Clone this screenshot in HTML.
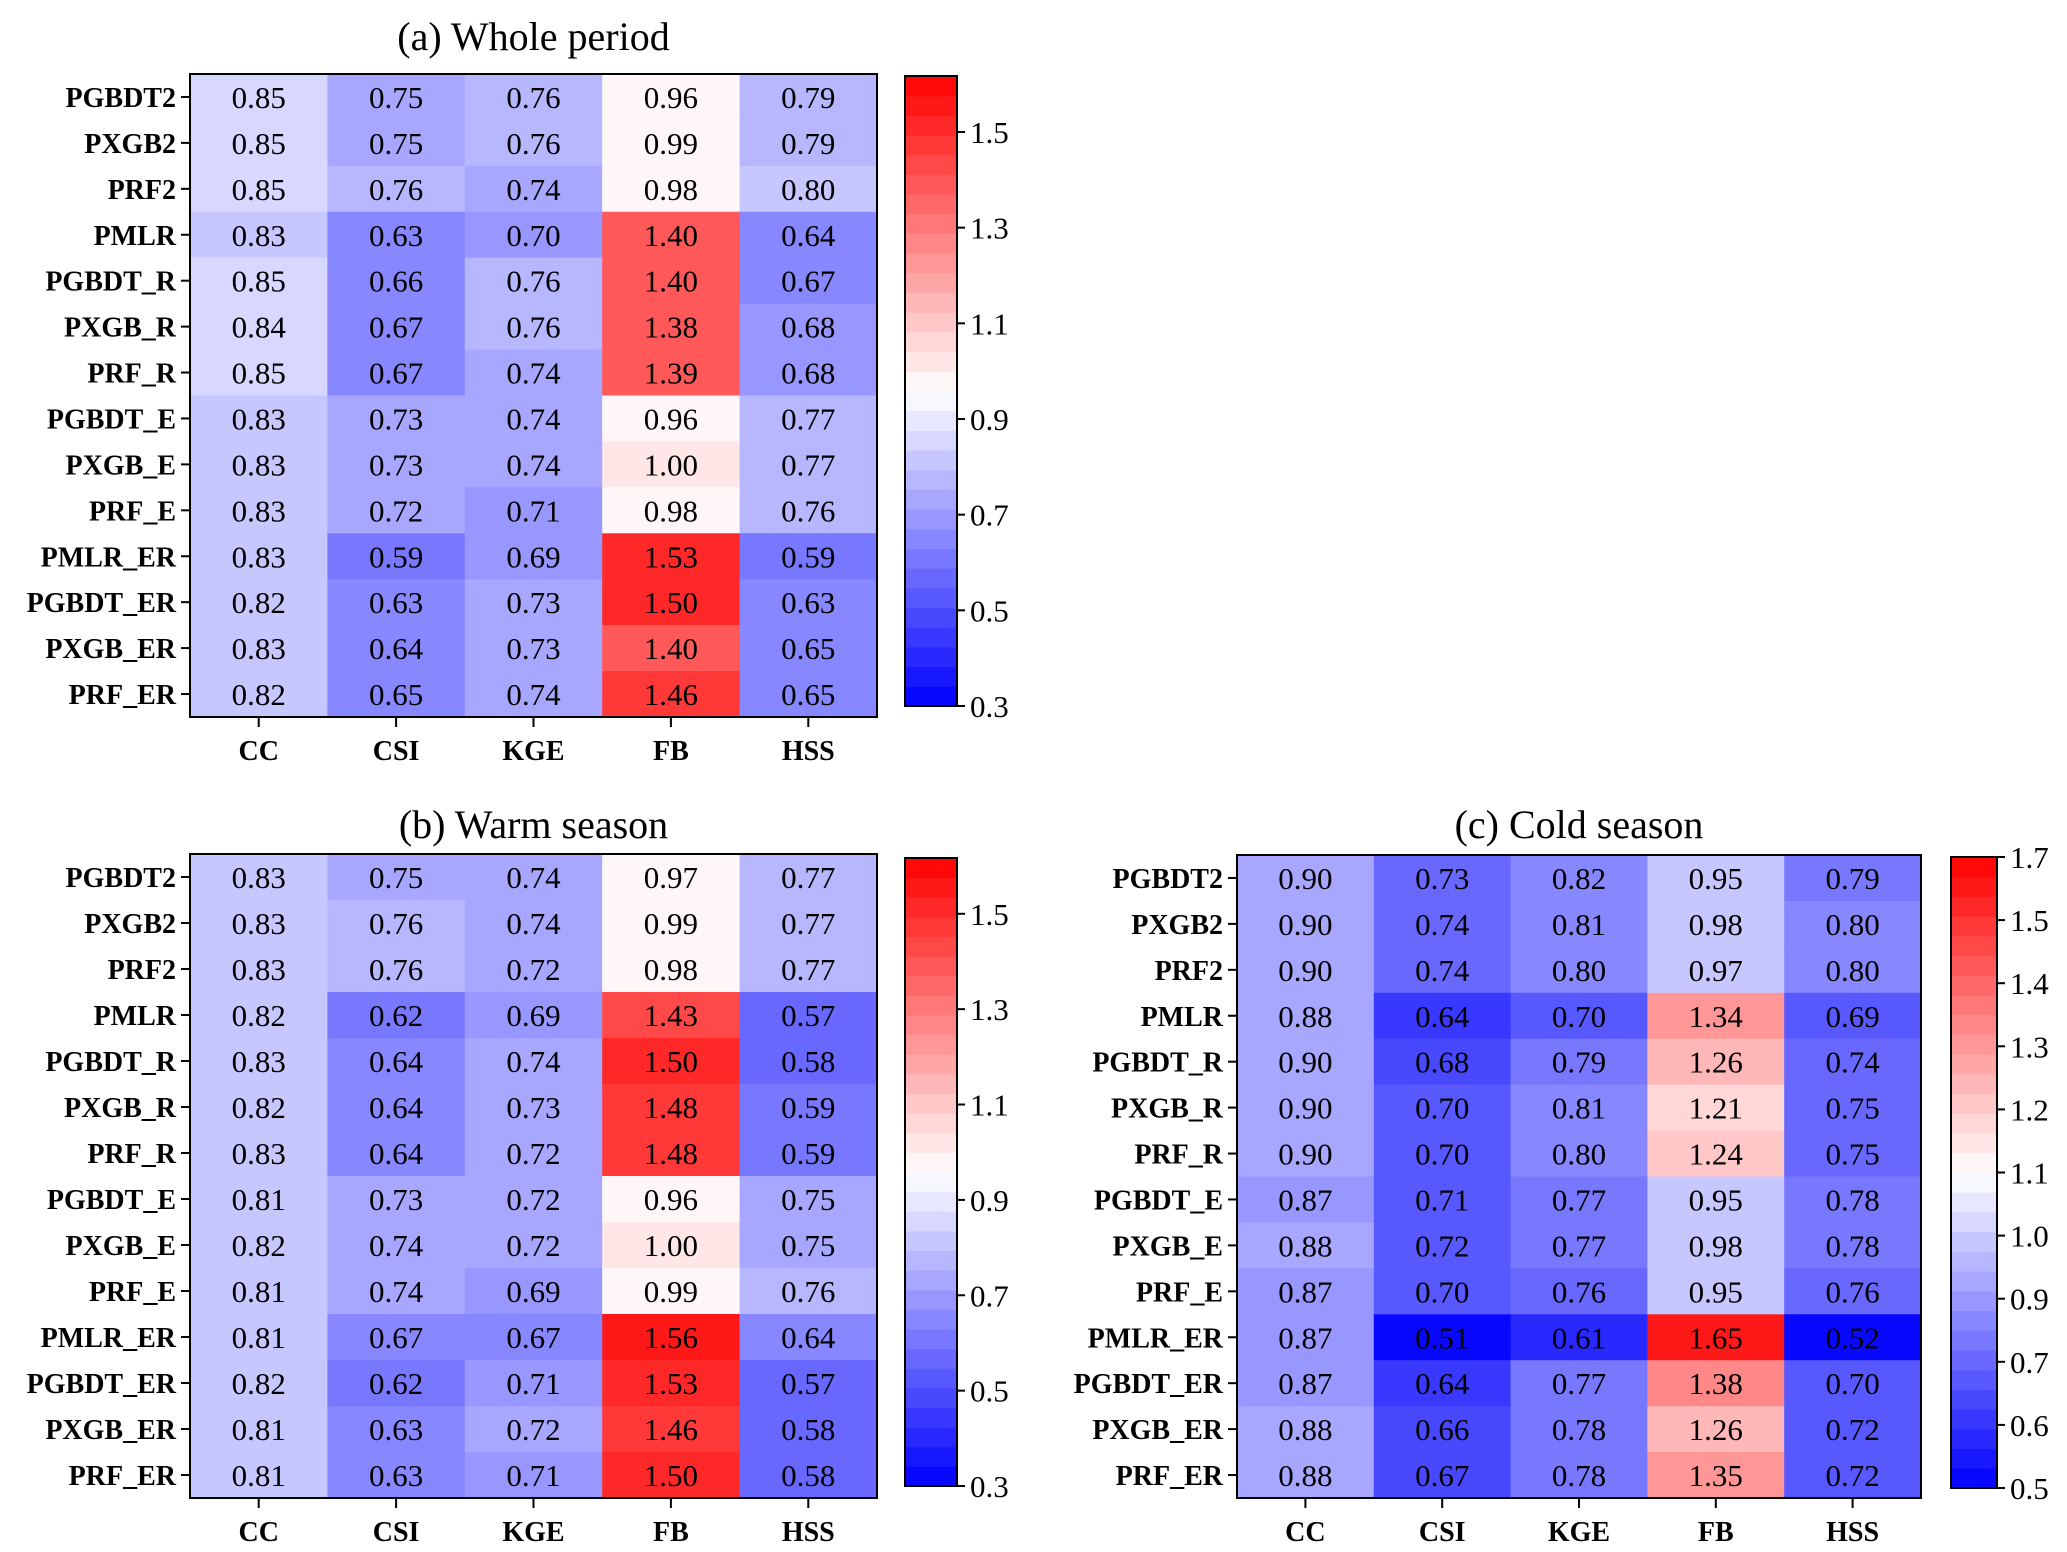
<!DOCTYPE html>
<html><head><meta charset="utf-8">
<style>
html,body{margin:0;padding:0;background:#fff;}
svg, svg text{font-family:"Liberation Serif","Times New Roman",serif;}
svg{display:block;}
</style></head>
<body>
<svg id="fig" width="2067" height="1552" viewBox="0 0 2067 1552" xmlns="http://www.w3.org/2000/svg" font-family="Liberation Serif, serif"></svg>
<script>
const rows = ["PGBDT2","PXGB2","PRF2","PMLR","PGBDT_R","PXGB_R","PRF_R","PGBDT_E","PXGB_E","PRF_E","PMLR_ER","PGBDT_ER","PXGB_ER","PRF_ER"];
const cols = ["CC","CSI","KGE","FB","HSS"];
const wholeValues = [
 [0.85,0.75,0.76,0.96,0.79],[0.85,0.75,0.76,0.99,0.79],[0.85,0.76,0.74,0.98,0.80],
 [0.83,0.63,0.70,1.40,0.64],[0.85,0.66,0.76,1.40,0.67],[0.84,0.67,0.76,1.38,0.68],
 [0.85,0.67,0.74,1.39,0.68],[0.83,0.73,0.74,0.96,0.77],[0.83,0.73,0.74,1.00,0.77],
 [0.83,0.72,0.71,0.98,0.76],[0.83,0.59,0.69,1.53,0.59],[0.82,0.63,0.73,1.50,0.63],
 [0.83,0.64,0.73,1.40,0.65],[0.82,0.65,0.74,1.46,0.65]];
const warmValues = [
 [0.83,0.75,0.74,0.97,0.77],[0.83,0.76,0.74,0.99,0.77],[0.83,0.76,0.72,0.98,0.77],
 [0.82,0.62,0.69,1.43,0.57],[0.83,0.64,0.74,1.50,0.58],[0.82,0.64,0.73,1.48,0.59],
 [0.83,0.64,0.72,1.48,0.59],[0.81,0.73,0.72,0.96,0.75],[0.82,0.74,0.72,1.00,0.75],
 [0.81,0.74,0.69,0.99,0.76],[0.81,0.67,0.67,1.56,0.64],[0.82,0.62,0.71,1.53,0.57],
 [0.81,0.63,0.72,1.46,0.58],[0.81,0.63,0.71,1.50,0.58]];
const coldValues = [
 [0.90,0.73,0.82,0.95,0.79],[0.90,0.74,0.81,0.98,0.80],[0.90,0.74,0.80,0.97,0.80],
 [0.88,0.64,0.70,1.34,0.69],[0.90,0.68,0.79,1.26,0.74],[0.90,0.70,0.81,1.21,0.75],
 [0.90,0.70,0.80,1.24,0.75],[0.87,0.71,0.77,0.95,0.78],[0.88,0.72,0.77,0.98,0.78],
 [0.87,0.70,0.76,0.95,0.76],[0.87,0.51,0.61,1.65,0.52],[0.87,0.64,0.77,1.38,0.70],
 [0.88,0.66,0.78,1.26,0.72],[0.88,0.67,0.78,1.35,0.72]];
const abTicks = ["1.5","1.3","1.1","0.9","0.7","0.5","0.3"];
const abTickVals = [1.5,1.3,1.1,0.9,0.7,0.5,0.3];
const cTicks = ["1.7","1.5","1.4","1.3","1.2","1.1","1.0","0.9","0.7","0.6","0.5"];

const NS="http://www.w3.org/2000/svg";
const svg=document.getElementById('fig');
const FF='Liberation Serif, Times New Roman, serif';
function mk(tag,attrs,parent){const e=document.createElementNS(NS,tag);for(const k in attrs)e.setAttribute(k,attrs[k]);if(tag==='text')e.setAttribute('font-family',FF);(parent||svg).appendChild(e);return e;}
const N=32;
function colorT(t){
  t=Math.max(0,Math.min(0.9999,t));
  const q=(Math.floor(t*N)+0.5)/N;
  let r,g,b;
  if(q<0.5){const s=q/0.5;r=255*s;g=255*s;b=255;}else{const s=(1-q)/0.5;r=255;g=255*s;b=255*s;}
  return `rgb(${Math.round(r)},${Math.round(g)},${Math.round(b)})`;
}
function drawPanel(p){
  const g=mk('g',{});
  
  
  const cw=(p.x1-p.x0)/cols.length, ch=(p.y1-p.y0)/rows.length;
  const xs=c=>p.x0+c*cw, ys=r=>p.y0+r*ch;
  p.values.forEach((row,r)=>row.forEach((v,c)=>{
    const rect=mk('rect',{x:xs(c),y:ys(r),width:cw+0.5,height:ch+0.5,fill:colorT(p.tfun(v))},g);
    
    
    const t=mk('text',{x:xs(c)+cw/2,y:ys(r)+ch/2+11,'text-anchor':'middle','font-size':31,fill:'#000'},g);
    t.textContent=v.toFixed(2);
    
    
  }));
  mk('rect',{x:p.x0,y:p.y0,width:p.x1-p.x0,height:p.y1-p.y0,fill:'none',stroke:'#000','stroke-width':2},g);
  rows.forEach((lab,r)=>{
    const y=ys(r)+ch/2;
    mk('line',{x1:p.x0-9,x2:p.x0,y1:y,y2:y,stroke:'#000','stroke-width':2},g);
    const t=mk('text',{x:p.x0-14,y:y+10,'text-anchor':'end','font-size':28,'font-weight':'bold'},g);
    t.textContent=lab;
    
    
  });
  cols.forEach((lab,c)=>{
    const x=xs(c)+cw/2;
    mk('line',{x1:x,x2:x,y1:p.y1,y2:p.y1+10,stroke:'#000','stroke-width':2},g);
    const t=mk('text',{x:x,y:p.y1+43,'text-anchor':'middle','font-size':28,'font-weight':'bold'},g);
    t.textContent=lab;
    
    
  });
  const tt=mk('text',{x:(p.x0+p.x1)/2,y:p.ty,'text-anchor':'middle','font-size':40},g);
  tt.textContent=p.title;
  
  
  const cb=mk('g',{},g);
  
  
  const bh=(p.cy1-p.cy0)/N;
  for(let i=0;i<N;i++){
    mk('rect',{x:p.cx,y:p.cy1-(i+1)*bh,width:p.cw,height:bh+0.5,fill:colorT((i+0.5)/N)},cb);
  }
  mk('rect',{x:p.cx,y:p.cy0,width:p.cw,height:p.cy1-p.cy0,fill:'none',stroke:'#000','stroke-width':2},cb);
  p.ticks.forEach((lab,i)=>{
    const y=p.tickY(i);
    mk('line',{x1:p.cx+p.cw,x2:p.cx+p.cw+8,y1:y,y2:y,stroke:'#000','stroke-width':2},cb);
    const t=mk('text',{x:p.cx+p.cw+13,y:y+11,'font-size':31},cb);
    t.textContent=lab;
    
    
  });
}
const abMin=0.3, abMax=1.617;
const abT=v=>(v-abMin)/(abMax-abMin);
function abTickY(cy0,cy1){return i=>cy1-abT(abTickVals[i])*(cy1-cy0);}
drawPanel({name:'panel-a-whole-period',title:'(a) Whole period',values:wholeValues,x0:190,x1:877,y0:74,y1:717,ty:50,
  cx:905,cw:52,cy0:76,cy1:706,tfun:abT,ticks:abTicks,tickY:abTickY(76,706)});
drawPanel({name:'panel-b-warm-season',title:'(b) Warm season',values:warmValues,x0:190,x1:877,y0:854,y1:1498,ty:838,
  cx:905,cw:52,cy0:858,cy1:1486,tfun:abT,ticks:abTicks,tickY:abTickY(858,1486)});
const cT=v=>v<1.1?(v-0.5)/0.6*0.5:0.5+(v-1.1)/0.6*0.5;
drawPanel({name:'panel-c-cold-season',title:'(c) Cold season',values:coldValues,x0:1237,x1:1921,y0:855,y1:1498,ty:838,
  cx:1951,cw:46,cy0:857,cy1:1488,tfun:cT,ticks:cTicks,tickY:i=>857+i*(1488-857)/(cTicks.length-1)});
</script>
</body></html>
